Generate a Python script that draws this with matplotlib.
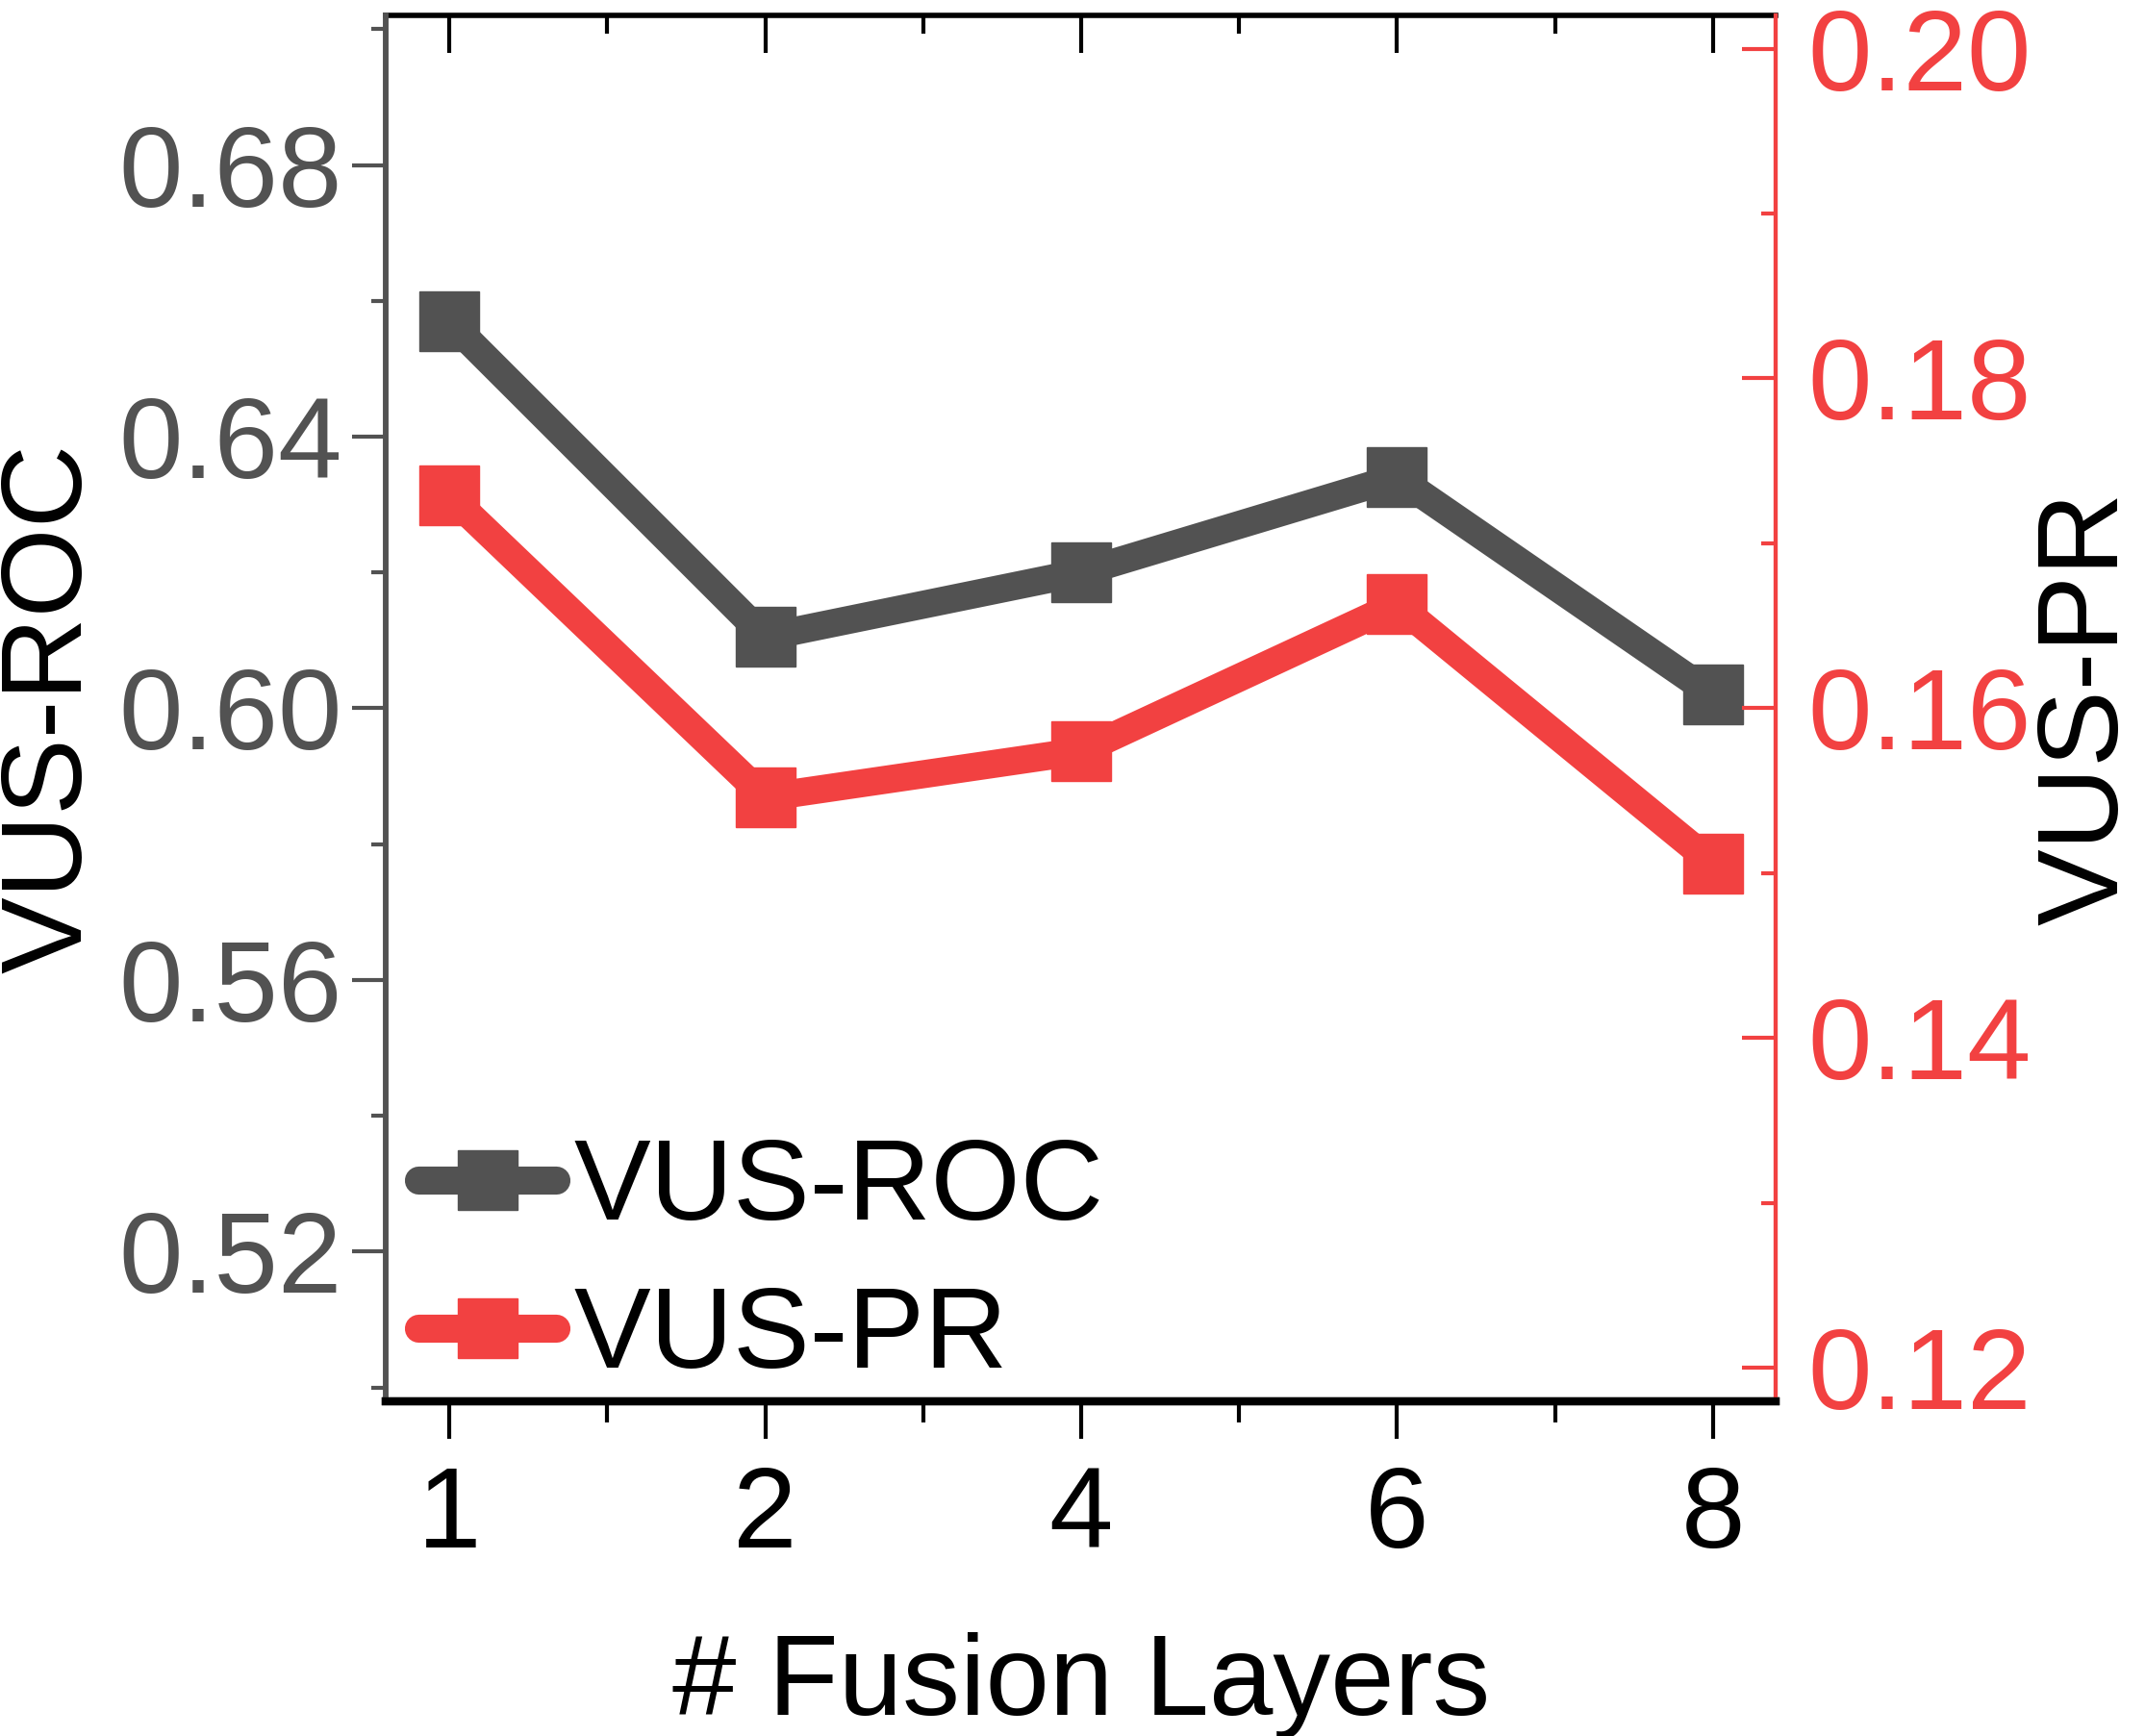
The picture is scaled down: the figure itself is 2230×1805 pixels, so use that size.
import matplotlib.pyplot as plt
from matplotlib.ticker import MultipleLocator

plt.rcParams['font.family'] = ['Liberation Sans', 'DejaVu Sans']

layers = ['1', '2', '4', '6', '8']
vus_roc = [0.657, 0.6105, 0.620, 0.634, 0.602]
vus_pr = [0.1729, 0.1546, 0.1574, 0.1663, 0.1506]

gray = '#525252'
red = '#F24141'
fs = 86

fig = plt.figure(figsize=(22.3, 18.05), dpi=100)
ax = fig.add_axes([0.180, 0.193, 0.648, 0.798])
ax2 = ax.twinx()

x = list(range(len(layers)))
l1, = ax.plot(x, vus_roc, color=gray, lw=21, marker='s', ms=45,
              solid_capstyle='round', solid_joinstyle='round', label='VUS-ROC')
l2, = ax2.plot(x, vus_pr, color=red, lw=21, marker='s', ms=45,
               solid_capstyle='round', solid_joinstyle='round', label='VUS-PR')

ax.set_xlim(-0.2, 4.2)
ax.set_xticks(x)
ax.set_xticklabels(layers)
ax.xaxis.set_minor_locator(MultipleLocator(0.5))
ax.set_ylim(0.498, 0.702)
ax.set_yticks([0.52, 0.56, 0.60, 0.64, 0.68])
ax.set_yticklabels(['0.52', '0.56', '0.60', '0.64', '0.68'])
ax.yaxis.set_minor_locator(MultipleLocator(0.02))
ax2.set_ylim(0.118, 0.202)
ax2.set_yticks([0.12, 0.14, 0.16, 0.18, 0.20])
ax2.set_yticklabels(['0.12', '0.14', '0.16', '0.18', '0.20'])
ax2.yaxis.set_minor_locator(MultipleLocator(0.01))

ax.tick_params(axis='x', which='major', direction='out', length=28, width=3,
               color='black', labelsize=fs, pad=20, labelcolor='black')
ax.tick_params(axis='x', which='minor', direction='out', length=16, width=3, color='black')
ax.tick_params(axis='y', which='major', direction='out', length=25, width=3,
               color=gray, labelsize=fs, pad=8, labelcolor=gray)
ax.tick_params(axis='y', which='minor', direction='out', length=11, width=3, color=gray)
ax2.tick_params(axis='y', which='major', direction='in', length=25, width=3,
                color=red, labelsize=fs, pad=24, labelcolor=red)
ax2.tick_params(axis='y', which='minor', direction='in', length=11, width=3, color=red)

top = ax.secondary_xaxis('top')
top.set_xticks(x)
top.set_xticklabels([])
top.xaxis.set_minor_locator(MultipleLocator(0.5))
top.tick_params(axis='x', which='major', direction='in', length=28, width=3, color='black')
top.tick_params(axis='x', which='minor', direction='in', length=14, width=3, color='black')
top.spines['top'].set_linewidth(4)
top.spines['top'].set_color('black')

for a in (ax, ax2):
    a.spines['left'].set_color(gray)
    a.spines['left'].set_linewidth(4)
    a.spines['right'].set_color(red)
    a.spines['right'].set_linewidth(3)
    a.spines['bottom'].set_color('black')
    a.spines['bottom'].set_linewidth(6)
    a.spines['top'].set_visible(False)

ax.set_xlabel('# Fusion Layers', fontsize=fs, labelpad=45)
ax.set_ylabel('VUS-ROC', fontsize=fs, labelpad=10)
ax2.set_ylabel('VUS-PR', fontsize=fs, labelpad=2)

ax2.legend(handles=[l1, l2], loc='lower left', bbox_to_anchor=(-0.018, -0.035),
           frameon=False, fontsize=fs, handlelength=1.2, handletextpad=0.15,
           labelspacing=0.36, borderaxespad=0.1)

fig.savefig('out.png', dpi=100)
